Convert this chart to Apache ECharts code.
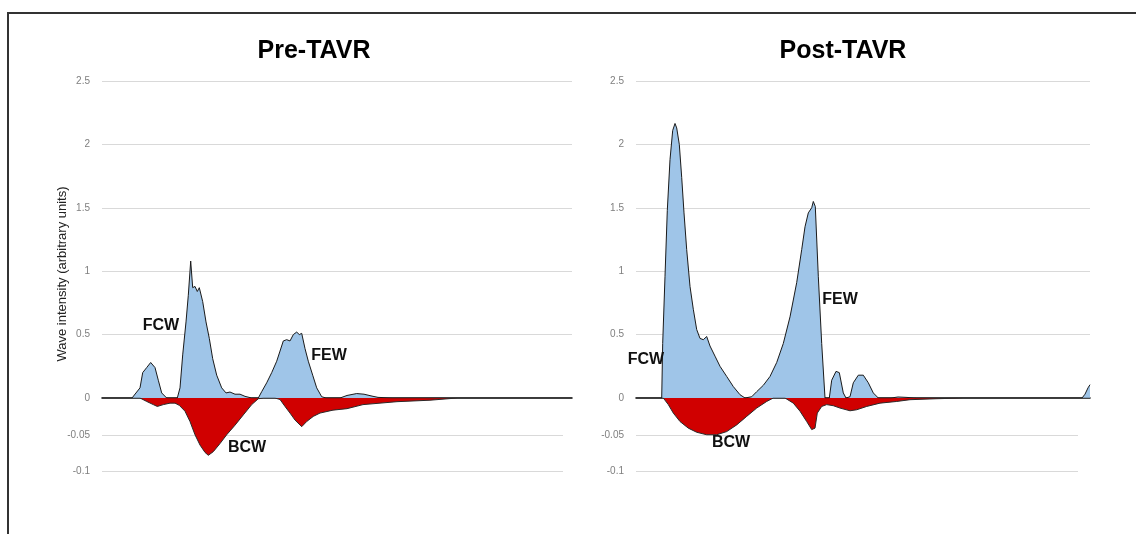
<!DOCTYPE html>
<html>
<head>
<meta charset="utf-8">
<script src="https://cdn.jsdelivr.net/npm/echarts@6/dist/echarts.min.js"></script>
<style>
html,body{margin:0;padding:0;background:#fff;}
#chart{width:1136px;height:534px;}
</style>
</head>
<body>
<div id="chart"></div>
<script>
// ---- Data (time in samples, wave intensity in arbitrary units) ----
const panelTitles = ['Pre-TAVR', 'Post-TAVR'];
const yAxisName = 'Wave intensity (arbitrary units)';
const posTicks = [0, 0.5, 1, 1.5, 2, 2.5];
const negTicks = [-0.1, -0.05, 0];

const preForward = [
  [0,0],[30,0],[38,0.08],[40.7,0.20],[44.7,0.24],[48.7,0.28],[53,0.24],[56.3,0.14],[59.7,0.04],[64.7,0],
  [75.3,0],[78,0.08],[80.7,0.34],[84,0.60],[86.3,0.81],[88.7,1.08],[90.7,0.87],[93,0.88],[95.3,0.84],
  [97.3,0.87],[100.7,0.76],[104,0.60],[107.3,0.47],[110.7,0.31],[114.7,0.18],[119.7,0.08],[124,0.04],
  [128,0.047],[133,0.03],[138,0.03],[143,0.013],[149.7,0],[156.3,0],[159.7,0.05],[164.7,0.12],[169.7,0.20],
  [174.7,0.29],[178,0.37],[181.3,0.45],[184.7,0.46],[188,0.45],[191.3,0.50],[194.7,0.52],[197.3,0.50],
  [199.7,0.51],[203,0.39],[206.3,0.29],[210.7,0.18],[214.7,0.08],[219.7,0.01],[224,0],[238,0],[245,0.02],
  [254.7,0.035],[262,0.03],[270,0.015],[276,0.005],[290,0],[470,0]
];
const preBackward = [
  [0,0],[38,0],[44.7,-0.0047],[51.3,-0.009],[55.3,-0.0115],[61.3,-0.009],[68,-0.007],[73,-0.007],
  [77.3,-0.010],[83,-0.018],[88,-0.032],[93,-0.050],[98,-0.064],[103,-0.074],[106.3,-0.078],[111.3,-0.073],
  [118,-0.062],[124.7,-0.050],[133,-0.037],[141.3,-0.023],[149.7,-0.009],[156.3,-0.001],[161.3,0],[173,0],
  [178,-0.002],[183,-0.0115],[188,-0.0205],[193,-0.030],[199.7,-0.039],[204.7,-0.032],[211.3,-0.025],
  [218,-0.0205],[231,-0.0165],[245,-0.0145],[261,-0.009],[295,-0.005],[328,-0.003],[355,0],[470,0]
];
const postForward = [
  [0,0],[25.7,0],[26.7,0.43],[29,0.96],[31.3,1.48],[34,1.88],[36.7,2.11],[39,2.165],[40.7,2.13],[43.3,2.0],
  [45.7,1.74],[48,1.46],[50.7,1.17],[54,0.88],[57.3,0.70],[60.7,0.54],[64,0.47],[67.3,0.46],[70.7,0.485],
  [74,0.41],[79,0.33],[84,0.25],[90.7,0.17],[97.3,0.09],[104,0.026],[109,0],[115.7,0.01],[120.7,0.05],
  [127.3,0.10],[134,0.17],[140.7,0.28],[147.3,0.43],[154,0.64],[160.7,0.91],[165.7,1.17],[169,1.35],
  [172.3,1.46],[175.7,1.50],[177.3,1.55],[179.3,1.51],[182.3,0.96],[185.7,0.43],[189,0],[193.3,0],
  [195.7,0.14],[200,0.21],[203.3,0.20],[207.3,0.04],[210,0],[214,0.01],[217.3,0.12],[222.3,0.18],
  [227.3,0.18],[232.3,0.12],[237.3,0.04],[242.3,0],[255,0],[262,0.008],[270,0.005],[280,0],[446,0],
  [449,0.03],[452,0.08],[454,0.105]
];
const postBackward = [
  [0,0],[27.3,0],[32.3,-0.009],[37.3,-0.0205],[44,-0.032],[52.3,-0.041],[60.7,-0.0466],[70.7,-0.050],
  [80.7,-0.050],[90.7,-0.0457],[100.7,-0.0366],[110.7,-0.025],[120.7,-0.0137],[130.7,-0.0047],[137.3,0],
  [149,0],[157.3,-0.007],[164,-0.018],[170.7,-0.032],[175.7,-0.043],[179,-0.041],[181.3,-0.0205],
  [185.7,-0.0115],[190.7,-0.009],[197.3,-0.0105],[204,-0.0137],[214,-0.0174],[220.7,-0.016],
  [230.7,-0.0115],[244,-0.007],[260.7,-0.0047],[274,-0.0023],[300,-0.001],[327,0],[454,0]
];
const timeSpan = [470, 454];

// annotation anchors in data units: [time, intensity]
const preLabels = { FCW: [59, 0.57], FEW: [227, 0.333], BCW: [145, -0.068] };
const postLabels = { FCW: [10, 0.30], FEW: [204, 0.78], BCW: [95, -0.061] };

// ---- Chart ----
const FONT = '"Liberation Sans", Arial, Helvetica, sans-serif';
const gridColor = '#d9d9d9';
const labelStyle = { color: '#7f7f7f', fontSize: 10, fontFamily: FONT };

const panels = [
  { left: 102, upW: 470, lowW: 461, data: [preForward, preBackward], lab: preLabels, span: timeSpan[0], titleX: 314 },
  { left: 636, upW: 454, lowW: 442, data: [postForward, postBackward], lab: postLabels, span: timeSpan[1], titleX: 843 }
];
const TOP = 81, ZERO = 398, LOWH = 73.5;

const grid = [], xAxis = [], yAxis = [], series = [], graphic = [];

function mp(name, c) {
  return { name: name, coord: c };
}

panels.forEach((p, i) => {
  const g = grid.length;
  grid.push({ left: p.left, top: TOP, width: p.upW, height: ZERO - TOP });
  grid.push({ left: p.left, top: ZERO, width: p.lowW, height: LOWH });
  grid.push({ left: p.left, top: ZERO, width: p.upW, height: LOWH });

  xAxis.push({ gridIndex: g, type: 'value', min: 0, max: p.span,
    axisLine: { show: true, onZero: false, lineStyle: { color: '#666666', width: 1.8 } },
    axisTick: { show: false }, axisLabel: { show: false }, splitLine: { show: false } });
  xAxis.push({ gridIndex: g + 1, type: 'value', min: 0, max: p.span, show: false });
  xAxis.push({ gridIndex: g + 2, type: 'value', min: 0, max: p.span, show: false });

  yAxis.push({ gridIndex: g, type: 'value', min: 0, max: 2.5, interval: 0.5,
    axisLine: { show: false }, axisTick: { show: false },
    axisLabel: Object.assign({ margin: 12 }, labelStyle),
    splitLine: { show: true, lineStyle: { color: gridColor, width: 1 } } });
  yAxis.push({ gridIndex: g + 1, type: 'value', min: -0.1, max: 0, interval: 0.05,
    axisLine: { show: false }, axisTick: { show: false },
    axisLabel: Object.assign({ margin: 12, showMaxLabel: false }, labelStyle),
    splitLine: { show: true, lineStyle: { color: gridColor, width: 1 } } });
  yAxis.push({ gridIndex: g + 2, type: 'value', min: -0.1, max: 0, show: false });

  const annLabel = { show: true, position: 'inside', formatter: '{b}', color: '#111',
    fontSize: 16, fontWeight: 'bold', fontFamily: FONT };

  series.push({
    type: 'line', xAxisIndex: g, yAxisIndex: g, data: p.data[0], showSymbol: false, smooth: false,
    lineStyle: { color: '#1a1a1a', width: 1 }, areaStyle: { color: '#9fc5e8', opacity: 1 },
    z: 3,
    markPoint: { symbol: 'circle', symbolSize: 1, itemStyle: { color: 'rgba(0,0,0,0)' }, label: annLabel,
      data: [mp('FCW', p.lab.FCW), mp('FEW', p.lab.FEW)] }
  });
  series.push({
    type: 'line', xAxisIndex: g + 2, yAxisIndex: g + 2, data: p.data[1], showSymbol: false, smooth: false,
    lineStyle: { color: '#2a2a2a', width: 1 }, areaStyle: { color: '#d00000', opacity: 1, origin: 'end' },
    z: 3,
    markPoint: { symbol: 'circle', symbolSize: 1, itemStyle: { color: 'rgba(0,0,0,0)' }, label: annLabel,
      data: [mp('BCW', p.lab.BCW)] }
  });

  graphic.push({ type: 'text', x: p.titleX, y: 51,
    style: { text: panelTitles[i], font: 'bold 25px ' + FONT, fill: '#000', align: 'center', verticalAlign: 'middle' } });
});

graphic.push({ type: 'text', x: 62, y: 274, rotation: Math.PI / 2,
  style: { text: yAxisName, font: '13px ' + FONT, fill: '#222', align: 'center', verticalAlign: 'middle' } });
graphic.push({ type: 'rect', shape: { x: 8, y: 13, width: 1150, height: 560 },
  style: { fill: 'none', stroke: '#333', lineWidth: 2 }, silent: true });

const chart = echarts.init(document.getElementById('chart'), null, { renderer: 'canvas' });
chart.setOption({
  animation: false,
  backgroundColor: '#fff',
  grid: grid, xAxis: xAxis, yAxis: yAxis, series: series, graphic: graphic
});
</script>
</body>
</html>
